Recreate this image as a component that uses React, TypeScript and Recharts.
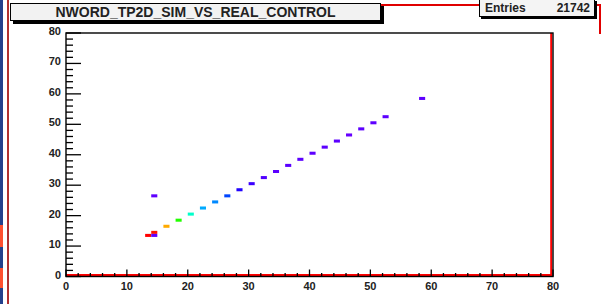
import React from 'react';
import { ScatterChart, Scatter, XAxis, YAxis, ReferenceArea } from 'recharts';

// histogram bins (lower edges) and their contents
const binX = [13, 14, 14, 14, 16, 18, 20, 22, 24, 26, 28, 30, 32, 34, 36, 38, 40, 42, 44, 46, 48, 50, 52, 58];
const binY = [13, 14, 13, 26, 16, 18, 20, 22, 24, 26, 28, 30, 32, 34, 36, 38, 40, 42, 44, 46, 48, 50, 52, 58];
const binCount = [3400, 3300, 360, 370, 2650, 1870, 1430, 1120, 990, 820, 650, 540, 440, 380, 390, 380, 370, 380, 380, 300, 380, 370, 380, 370];

const axisTicks = [0, 2, 4, 6, 8, 10, 12, 14, 16, 18, 20, 22, 24, 26, 28, 30, 32, 34, 36, 38, 40,
	42, 44, 46, 48, 50, 52, 54, 56, 58, 60, 62, 64, 66, 68, 70, 72, 74, 76, 78, 80];

const histTitle = 'NWORD_TP2D_SIM_VS_REAL_CONTROL';
const statsLabel = 'Entries';
const statsEntries = 21742;

const bins = binX.map((x, i) => ({ x: x + 0.5, y: binY[i] + 0.5, bx: x, by: binY[i], z: binCount[i] }));

// rough ROOT rainbow palette
const palette: [number, string][] = [
	[0.0, '#7a00ff'],
	[0.1, '#6400ff'],
	[0.14, '#4a00ff'],
	[0.19, '#2200ff'],
	[0.24, '#0044ff'],
	[0.29, '#0088ff'],
	[0.33, '#00aaff'],
	[0.42, '#00ffcc'],
	[0.55, '#22ff00'],
	[0.66, '#ddff00'],
	[0.78, '#ffaa00'],
	[0.9, '#ff4000'],
	[1.0, '#ff0000'],
];

const hex = (c: string) => [1, 3, 5].map((i) => parseInt(c.slice(i, i + 2), 16));

const colorFor = (z: number) =>
{
	const zMax = Math.max(...binCount);
	const t = Math.min(1, z / zMax);
	for (let i = 1; i < palette.length; i++)
	{
		const [t1, c1] = palette[i];
		const [t0, c0] = palette[i - 1];
		if (t <= t1)
		{
			const f = (t - t0) / (t1 - t0);
			const a = hex(c0);
			const b = hex(c1);
			const m = a.map((v, k) => Math.round(v + (b[k] - v) * f));
			return `rgb(${ m[0] },${ m[1] },${ m[2] })`;
		}
	}
	return '#ff0000';
};

const font = '"Liberation Sans", Arial, sans-serif';

const YTick = (props: any) =>
{
	const { x, y, payload } = props;
	const major = payload.value % 10 === 0;
	return (
		<g>
			<line x1={ x } x2={ x + (major ? 15 : 7) } y1={ y } y2={ y } stroke="#000" strokeWidth={ 1.3 } />
			{ major && (
				<text x={ x - 5 } y={ y + 2 } textAnchor="end" fontSize={ 11 } fontWeight="bold" fontFamily={ font } fill="#222">
					{ payload.value }
				</text>
			) }
		</g>
	);
};

const XTick = (props: any) =>
{
	const { x, y, payload } = props;
	const major = payload.value % 10 === 0;
	return (
		<g>
			<line x1={ x } x2={ x } y1={ y } y2={ y - (major ? 7 : 3.5) } stroke="#000" strokeWidth={ 1.3 } />
			{ major && (
				<text x={ x } y={ y + 13.5 } textAnchor="middle" fontSize={ 11 } fontWeight="bold" fontFamily={ font } fill="#222">
					{ payload.value }
				</text>
			) }
		</g>
	);
};

const Frame = (props: any) =>
{
	const { x, y, width, height } = props;
	return (
		<g>
			<line x1={ x } x2={ x + width - 2 } y1={ y + height - 1.5 } y2={ y + height - 1.5 } stroke="#ff0000" strokeWidth={ 2 } />
			<line x1={ x + width - 1.8 } x2={ x + width - 1.8 } y1={ y } y2={ y + height } stroke="#ff0000" strokeWidth={ 2 } />
			<rect x={ x } y={ y } width={ width } height={ height } fill="none" stroke="#000" strokeWidth={ 1.4 } />
		</g>
	);
};

export default function App()
{
	return (
		<div style={ { position: 'absolute', left: 0, top: 0, width: 604, height: 304, background: '#fff', overflow: 'hidden' } }>
			<ScatterChart
				width={ 604 }
				height={ 304 }
				margin={ { top: 33, right: 51, left: 0, bottom: 0 } }
			>
				<XAxis
					type="number"
					dataKey="x"
					domain={ [0, 80] }
					ticks={ axisTicks }
					interval={ 0 }
					height={ 27.5 }
					tickSize={ 0 }
					tickMargin={ 0 }
					axisLine={ false }
					tickLine={ false }
					tick={ (p: any) => <XTick { ...p } /> }
					allowDataOverflow
				/>
				<YAxis
					type="number"
					dataKey="y"
					domain={ [0, 80] }
					ticks={ axisTicks }
					interval={ 0 }
					width={ 66 }
					tickSize={ 0 }
					tickMargin={ 0 }
					axisLine={ false }
					tickLine={ false }
					tick={ (p: any) => <YTick { ...p } /> }
					allowDataOverflow
				/>
				{ bins.map((b, i) => (
					<ReferenceArea
						key={ i }
						x1={ b.bx }
						x2={ b.bx + 1 }
						y1={ b.by }
						y2={ b.by + 1 }
						fill={ colorFor(b.z) }
						fillOpacity={ 1 }
						stroke="none"
						ifOverflow="visible"
					/>
				)) }
				<ReferenceArea x1={ 0 } x2={ 80 } y1={ 0 } y2={ 80 } shape={ (p: any) => <Frame { ...p } /> } ifOverflow="visible" />
				<Scatter data={ bins } shape={ () => <g /> } isAnimationActive={ false } />
			</ScatterChart>

			{/* canvas / pad decorations */ }
			<div style={ { position: 'absolute', left: 0, top: 0, width: 3, height: 304, background: '#23408c' } } />
			<div style={ { position: 'absolute', left: 0, top: 225, width: 3, height: 22, background: '#ff5030' } } />
			<div style={ { position: 'absolute', left: 0, top: 268, width: 3, height: 20, background: '#ff5030' } } />
			<div style={ { position: 'absolute', left: 7, top: 0, width: 2, height: 304, background: '#b03030' } } />
			<div style={ { position: 'absolute', left: 381, top: 4, width: 220, height: 2, background: '#e00000' } } />
			<div style={ { position: 'absolute', left: 599, top: 4, width: 2, height: 30, background: '#e00000' } } />

			<div
				style={ {
					position: 'absolute', left: 10, top: 3, width: 369, height: 16,
					background: '#f2f2f2', border: '1px solid #000', boxShadow: '3px 3px 0 #000',
					fontFamily: font, fontWeight: 'bold', fontSize: 14, lineHeight: '17px', textAlign: 'center', color: '#222',
				} }
			>
				{ histTitle }
			</div>
			<div
				style={ {
					position: 'absolute', left: 479, top: -1, width: 114, height: 16,
					background: '#f4f4f4', border: '1px solid #000', boxShadow: '2px 2px 0 #000',
					fontFamily: font, fontWeight: 'bold', fontSize: 12, lineHeight: '17px', color: '#222',
				} }
			>
				<span style={ { position: 'absolute', left: 5 } }>{ statsLabel }</span>
				<span style={ { position: 'absolute', right: 4 } }>{ statsEntries }</span>
			</div>
		</div>
	);
}
